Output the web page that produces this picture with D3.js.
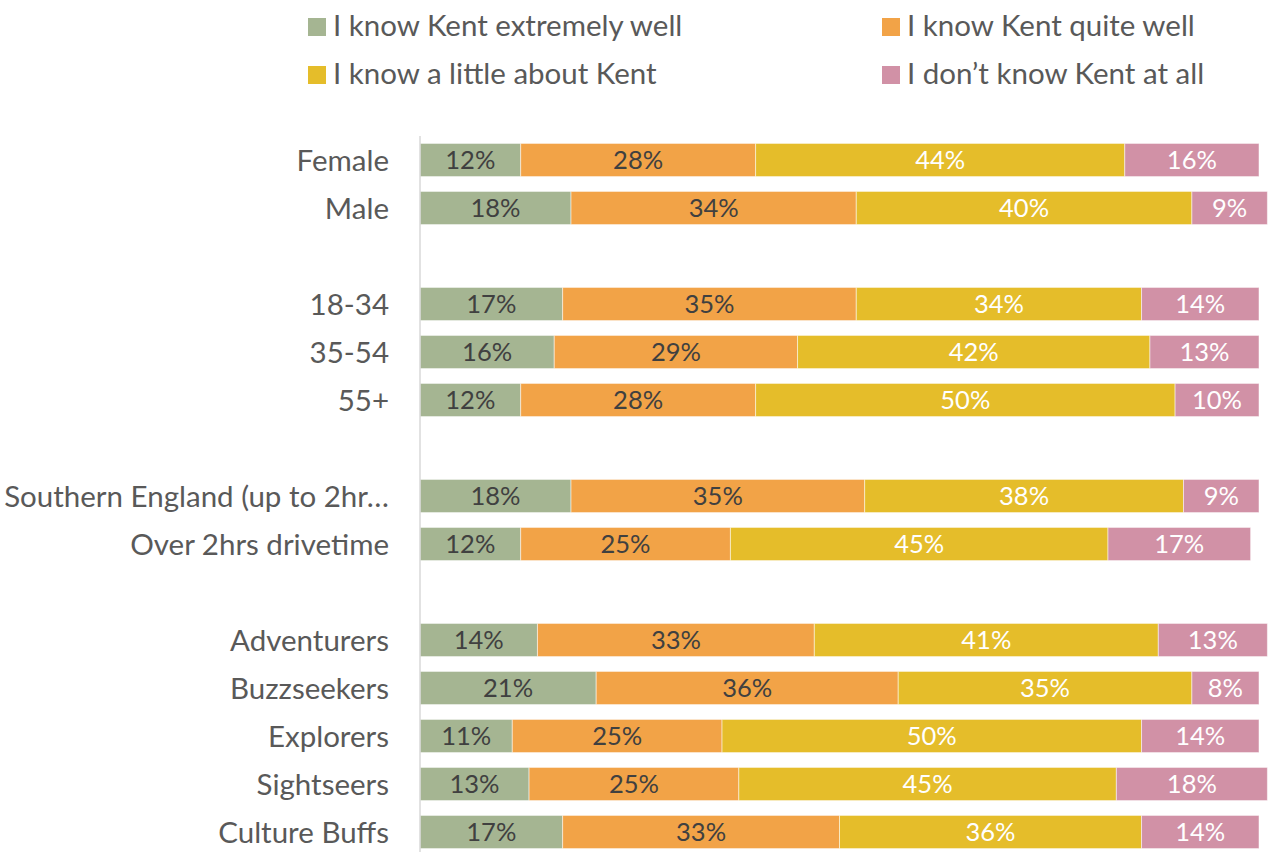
<!DOCTYPE html>
<html>
<head>
<meta charset="utf-8">
<script src="https://cdn.jsdelivr.net/npm/d3@7"></script>
<style>
  body { margin: 0; background: #fff; }
  text { font-family: Lato, "Open Sans", sans-serif; }
</style>
</head>
<body>
<div id="chart"></div>
<script>
// categories (blank strings are the spacer rows between groups)
var categories = ["Female", "Male", "", "18-34", "35-54", "55+", " ",
  "Southern England (up to 2hr\u2026", "Over 2hrs drivetime", "  ",
  "Adventurers", "Buzzseekers", "Explorers", "Sightseers", "Culture Buffs"];

var seriesNames = ["I know Kent extremely well", "I know Kent quite well",
  "I know a little about Kent", "I don\u2019t know Kent at all"];
var seriesColors = ["#A5B592", "#F2A347", "#E5BD2A", "#D191A6"];
var labelColors = ["#404040", "#404040", "#ffffff", "#ffffff"];

var extremelyWell = [12, 18, null, 17, 16, 12, null, 18, 12, null, 14, 21, 11, 13, 17];
var quiteWell     = [28, 34, null, 35, 29, 28, null, 35, 25, null, 33, 36, 25, 25, 33];
var aLittle       = [44, 40, null, 34, 42, 50, null, 38, 45, null, 41, 35, 50, 45, 36];
var notAtAll      = [16,  9, null, 14, 13, 10, null,  9, 17, null, 13,  8, 14, 18, 14];

var series = [extremelyWell, quiteWell, aLittle, notAtAll];

var W = 1273, H = 852;
var margin = { top: 136, right: 14, bottom: 0, left: 420 },
    width = 1259 - margin.left,
    height = H - margin.top;

var svg = d3.select("#chart").append("svg")
    .attr("width", W)
    .attr("height", H);

var g = svg.append("g")
    .attr("transform", "translate(" + margin.left + "," + margin.top + ")");

var x = d3.scaleLinear().domain([0, 100]).range([0, width]);
var y = d3.scaleBand()
    .domain(categories)
    .range([0, 720])
    .paddingInner(0.31)
    .paddingOuter(0.155);

// build stacked segments
var rows = categories.map(function(c, i) {
  var x0 = 0;
  return series.map(function(s, k) {
    var v = s[i];
    var seg = { cat: c, k: k, v: v, x0: x0, x1: x0 + (v || 0) };
    x0 = seg.x1;
    return seg;
  }).filter(function(d) { return d.v != null; });
});
var segs = [].concat.apply([], rows);

g.selectAll(".bar")
  .data(segs)
  .enter().append("rect")
    .attr("class", "bar")
    .attr("x", d => x(d.x0))
    .attr("y", d => y(d.cat))
    .attr("width", d => x(d.x1) - x(d.x0))
    .attr("height", y.bandwidth())
    .style("fill", d => seriesColors[d.k])
    .style("stroke", "#ffffff")
    .style("stroke-opacity", 0.5)
    .style("stroke-width", "1px");

g.selectAll(".val")
  .data(segs)
  .enter().append("text")
    .attr("class", "val")
    .attr("x", d => x((d.x0 + d.x1) / 2))
    .attr("y", d => y(d.cat) + y.bandwidth() / 2)
    .attr("dy", "0.37em")
    .attr("text-anchor", "middle")
    .style("font-size", "25.5px")
    .style("fill", d => labelColors[d.k])
    .text(d => d.v + "%");

// Y axis (line + category labels)
var yAxis = g.append("g")
    .attr("class", "axis axis--y")
    .call(d3.axisLeft(y).tickSize(0).tickPadding(31));
yAxis.select(".domain").attr("d", "M0,0V" + height).style("stroke", "#d9d9d9").style("stroke-width", "1.5px");
yAxis.selectAll("text")
    .style("font-size", "29.5px")
    .style("fill", "#595959")
    .attr("dy", "0.36em")
    .style("font-family", "Lato, 'Open Sans', sans-serif");

// legend
var legendPos = [[308, 36], [882, 36], [308, 84], [882, 84]];
var legend = svg.selectAll(".legend")
  .data(seriesNames)
  .enter().append("g")
    .attr("class", "legend")
    .attr("transform", (d, i) => "translate(" + legendPos[i][0] + "," + legendPos[i][1] + ")");
legend.append("rect")
    .attr("x", 0).attr("y", -18)
    .attr("width", 18).attr("height", 18)
    .style("fill", (d, i) => seriesColors[i]);
legend.append("text")
    .attr("x", 25)
    .style("font-size", "29.5px")
    .style("fill", "#595959")
    .text(d => d);
</script>
</body>
</html>
